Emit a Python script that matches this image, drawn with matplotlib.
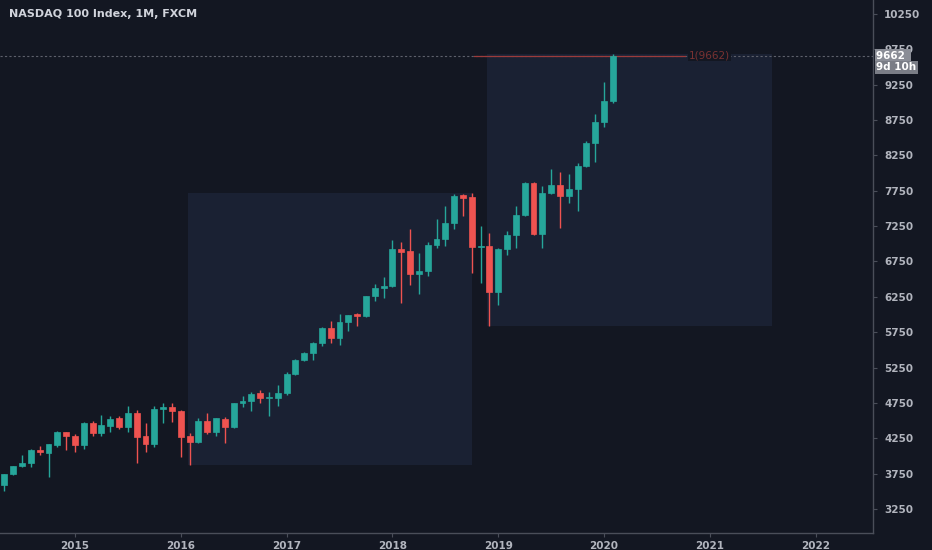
import matplotlib
matplotlib.use("Agg")
import matplotlib.pyplot as plt
import pandas as pd
from matplotlib.patches import Rectangle

# monthly candles, May 2014 .. Feb 2020
months = pd.date_range("2014-05-01", periods=70, freq="MS")
opens = [3589, 3738, 3858, 3900, 4085, 4046, 4160, 4340,
         4275, 4155, 4460, 4330, 4430, 4530, 4406, 4612, 4282, 4169, 4664, 4692,
         4636, 4282, 4202, 4500, 4343, 4523, 4414, 4745, 4777, 4886, 4815, 4823,
         4886, 5155, 5357, 5452, 5593, 5814, 5664, 5899, 6008, 5984, 6266, 6371,
         6404, 6927, 6893, 6573, 6615, 6987, 7068, 7295, 7690, 7657, 6960, 6974,
         6318, 6927, 7121, 7404, 7856, 7135, 7714, 7832, 7676, 7775, 8100, 8421,
         8718, 9020]
highs = [3748, 3862, 4009, 4095, 4141, 4170, 4350, 4345,
         4310, 4478, 4495, 4580, 4565, 4570, 4706, 4650, 4470, 4706, 4753, 4753,
         4650, 4330, 4535, 4605, 4540, 4556, 4750, 4848, 4905, 4935, 4910, 5010,
         5183, 5375, 5470, 5616, 5828, 5909, 6003, 6000, 6026, 6268, 6432, 6531,
         7054, 7022, 7205, 6870, 7025, 7351, 7535, 7705, 7705, 7723, 7245, 7149,
         6940, 7181, 7535, 7880, 7875, 7818, 8054, 8012, 7988, 8137, 8458, 8836,
         9288, 9680]
lows = [3509, 3725, 3840, 3840, 4010, 3700, 4130, 4085,
        4060, 4095, 4280, 4275, 4345, 4380, 4345, 3905, 4060, 4120, 4462, 4485,
        3990, 3872, 4188, 4310, 4282, 4188, 4390, 4697, 4636, 4753, 4570, 4710,
        4860, 5140, 5340, 5350, 5555, 5603, 5569, 5760, 5840, 5960, 6196, 6230,
        6390, 6168, 6418, 6290, 6545, 6946, 6974, 7210, 7394, 6583, 6450, 5838,
        6135, 6838, 6937, 7390, 7124, 6946, 7700, 7220, 7582, 7470, 8080, 8160,
        8656, 8990]
closes = [3738, 3858, 3900, 4090, 4049, 4165, 4345, 4275,
          4155, 4460, 4330, 4438, 4523, 4406, 4612, 4272, 4165, 4664, 4692, 4636,
          4272, 4202, 4500, 4343, 4533, 4414, 4745, 4777, 4876, 4815, 4830, 4886,
          5155, 5357, 5452, 5593, 5805, 5664, 5899, 5990, 5984, 6262, 6371, 6404,
          6927, 6880, 6573, 6615, 6987, 7068, 7295, 7677, 7648, 6960, 6975, 6318,
          6927, 7121, 7404, 7856, 7135, 7714, 7832, 7676, 7775, 8100, 8421, 8718,
          9020, 9662]

years = [2015, 2016, 2017, 2018, 2019, 2020, 2021, 2022]
price_ticks = list(range(3250, 10251, 500))
last_price = 9662

BG = "#131722"
UP = "#26a69a"
DOWN = "#ef5350"
TXT = "#b2b5be"
AXIS = "#4a4e59"
YMIN, YMAX = 2910, 10448

# x = months since Jan 2015
xs = [(d.year - 2015) * 12 + d.month - 1 for d in months]

fig = plt.figure(figsize=(9.32, 5.5), dpi=100, facecolor=BG)
ax = fig.add_axes([0, 17 / 550, 873 / 932, 533 / 550])
ax.set_facecolor(BG)

# the two range boxes
for x0, x1, y0, y1 in [(12.8, 45.0, 3872, 7719), (46.7, 79.05, 5838, 9685)]:
    ax.add_patch(Rectangle((x0, y0), x1 - x0, y1 - y0, facecolor="#1a2133",
                           edgecolor="none", zorder=1))

# last price lines
ax.axhline(last_price, color="#5d606b", lw=0.8, ls=(0, (2, 2)), zorder=2)
ax.plot([45.2, 69.2], [last_price, last_price], color="#9c3b3b", lw=0.9, zorder=3)
ax.text(69.6, last_price, "1(9662)", color="#7a3232", fontsize=7.5,
        va="center", ha="left", zorder=3,
        bbox=dict(facecolor=BG, edgecolor="none", pad=0.5))

w = 0.66
for x, o, h, l, c in zip(xs, opens, highs, lows, closes):
    col = UP if c >= o else DOWN
    ax.vlines(x, l, h, color=col, lw=1.0, zorder=4)
    b = max(abs(c - o), 12)
    ax.add_patch(Rectangle((x - w / 2, min(o, c)), w, b, facecolor=col,
                           edgecolor=col, lw=0.5, zorder=5))

ax.set_xlim(-8.5, 90.5)
ax.set_ylim(YMIN, YMAX)

ax.set_xticks([(y - 2015) * 12 for y in years])
ax.set_xticklabels([str(y) for y in years])
ax.yaxis.tick_right()
ax.set_yticks(price_ticks)
ax.set_yticklabels([str(p) for p in price_ticks])
ax.tick_params(colors=AXIS, labelcolor=TXT, labelsize=7.5, length=3, width=0.8)
ax.tick_params(axis="x", pad=3)
ax.tick_params(axis="y", pad=5)
for lab in ax.get_xticklabels() + ax.get_yticklabels():
    lab.set_fontweight("bold")

for s in ["top", "left"]:
    ax.spines[s].set_visible(False)
for s in ["bottom", "right"]:
    ax.spines[s].set_color(AXIS)
    ax.spines[s].set_linewidth(1.0)

# price scale labels (they sit over the 9750 label, as in the original)
yf = (last_price - YMIN) / (YMAX - YMIN)
ax.text(1.004, yf, "9662 ", transform=ax.transAxes,
        color="white", fontsize=7.5, fontweight="bold", va="center", ha="left",
        bbox=dict(facecolor="#8a8d96", edgecolor="none", pad=1.4), clip_on=False, zorder=10)
ax.text(1.004, yf - 0.022, "9d 10h", transform=ax.transAxes,
        color="white", fontsize=7.5, fontweight="bold", va="center", ha="left",
        bbox=dict(facecolor="#7a7d86", edgecolor="none", pad=1.2), clip_on=False, zorder=10)

fig.text(9 / 932, 1 - 14 / 550, "NASDAQ 100 Index, 1M, FXCM", color="#d1d4dc",
         fontsize=8, fontweight="bold", va="center", ha="left")

fig.savefig("out.png", dpi=100, facecolor=BG)
